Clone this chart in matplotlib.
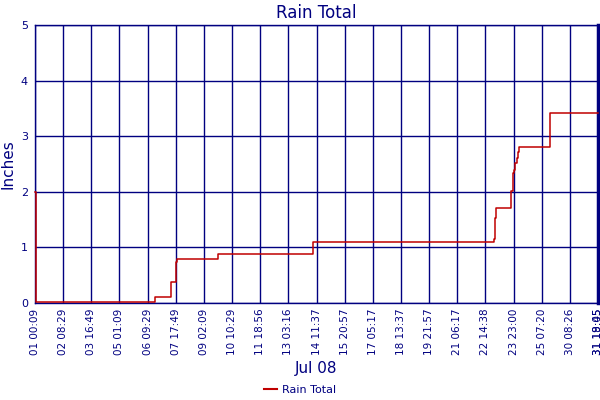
import matplotlib
matplotlib.use("Agg")
import matplotlib.pyplot as plt
from matplotlib.lines import Line2D

# sample index where the running total changes, and the new total (inches)
step_idx = [0, 2, 426, 483, 501, 506, 650, 986, 1632, 1635, 1639,
            1692, 1697, 1702, 1705, 1712, 1717, 1720, 1831, 2000]
step_val = [2.0, 0.02, 0.10, 0.38, 0.74, 0.80, 0.89, 1.09, 1.16, 1.53, 1.70,
            2.01, 2.33, 2.40, 2.51, 2.60, 2.71, 2.80, 3.41, 3.41]

tick_idx = list(range(0, 2001, 100))
tick_labels = ["01 00:09", "02 08:29", "03 16:49", "05 01:09", "06 09:29",
               "07 17:49", "09 02:09", "10 10:29", "11 18:56", "13 03:16",
               "14 11:37", "15 20:57", "17 05:17", "18 13:37", "19 21:57",
               "21 06:17", "22 14:38", "23 23:00", "25 07:20", "30 08:26",
               "31 18:45"]
extra_label = "31 19:05"

navy = "#000080"
red = "#c00000"

fig = plt.figure(figsize=(6, 4), dpi=100)
ax = fig.add_axes([0.0583, 0.2425, 0.9384, 0.695])

ax.step(step_idx, step_val, where="post", color=red, lw=1.1, zorder=5,
        clip_on=False)

ax.set_xlim(0, 2000)
ax.set_ylim(0, 5)
ax.set_xticks(tick_idx)
ax.set_xticklabels(tick_labels, rotation=90, fontsize=7.5, color=navy)
ax.set_yticks(range(6))
ax.tick_params(axis="y", labelsize=8, labelcolor=navy, length=0, pad=5)
ax.tick_params(axis="x", length=0, pad=4)
ax.grid(True, color=navy, lw=1)
ax.set_axisbelow(True)
for s in ax.spines.values():
    s.set_color(navy)
    s.set_linewidth(1)
ax.spines["right"].set_linewidth(2.5)

# overlapping last label, like the original
ax.text(2000, -0.09, extra_label, rotation=90, fontsize=7.5, color=navy,
        ha="center", va="top", clip_on=False)

ax.set_title("Rain Total", color=navy, fontsize=12, pad=5)
ax.set_ylabel("Inches", color=navy, fontsize=11, labelpad=4)
ax.set_xlabel("Jul 08", color=navy, fontsize=11, labelpad=4)

handle = Line2D([], [], color=red, lw=1.5)
fig.legend([handle], ["Rain Total"], loc="center", bbox_to_anchor=(0.5, 0.025),
           frameon=False, fontsize=8, labelcolor=navy, handlelength=1.2,
           handletextpad=0.4)

fig.savefig("out.png", dpi=100)
